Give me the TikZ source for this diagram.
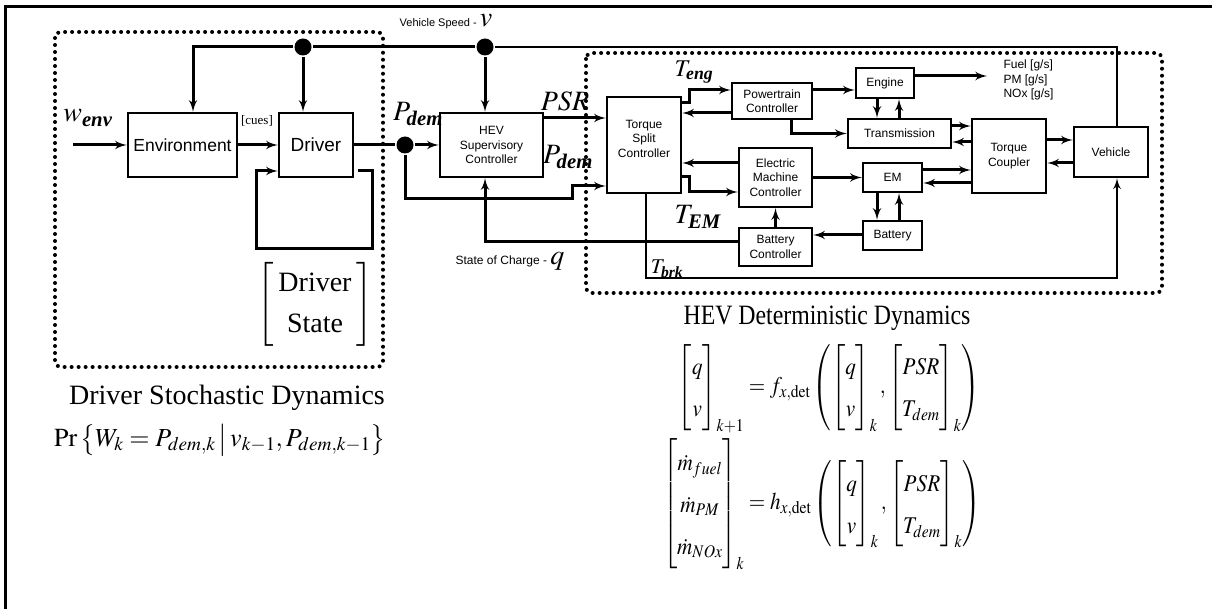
\documentclass[tikz,border=0pt]{standalone}
\usepackage{amsmath}
\usepackage{mathptmx}
\usepackage{fontspec}
\setmainfont{Liberation Serif}
\setsansfont{Liberation Sans}
\usepackage{graphicx}
\usetikzlibrary{arrows, positioning}

\newcommand{\sig}[2]{$#1_{\textbf{\textit{#2}}}$}

\begin{document}
\begin{tikzpicture}[x=1pt, y=-1pt, line width=3pt]
	\tikzset{->, >=latex',
		blk/.style={draw, -, line width=2.5pt, fill=white, inner sep=0pt, align=center, font=\sffamily\fontsize{12}{14.5}\selectfont},
		big/.style={blk, font=\sffamily\fontsize{17.5}{20}\selectfont},
		dot/.style={circle, fill, inner sep=0pt, minimum size=17pt},
		dotbox/.style={-, line width=4pt, line cap=round, dash pattern=on 0pt off 7pt, rounded corners=6pt},
		sig/.style={inner sep=0pt, font=\fontsize{28}{30}\selectfont},
		small/.style={inner sep=0pt, font=\sffamily\fontsize{11}{13}\selectfont}
	}

	\useasboundingbox (0,0) rectangle (1212,609);
	\draw[-] (5,609) -- (5,7) -- (1212,7);
	\draw[dotbox] (55,32) rectangle (383,367);
	\draw[dotbox] (586,53) rectangle (1162,293);

	\node[big, minimum width=109pt, minimum height=64pt] (env) at (182.5,145) {Environment};
	\node[big, font=\sffamily\fontsize{19}{22}\selectfont, minimum width=74pt, minimum height=64pt] (drv) at (316,145) {Driver};
	\node[blk, minimum width=103pt, minimum height=64pt] (hev) at (491.5,145) {HEV\\Supervisory\\Controller};
	\node[blk, minimum width=74pt, minimum height=96pt] (tsc) at (644,145) {Torque\\Split\\Controller\\[-2pt]~};
	\node[blk, minimum width=80pt, minimum height=36pt] (ptc) at (772,101) {Powertrain\\Controller};
	\node[blk, minimum width=58pt, minimum height=30pt] (eng) at (885,83) {Engine};
	\node[blk, minimum width=103pt, minimum height=29pt] (trn) at (899.5,133.5) {Transmission};
	\node[blk, minimum width=74pt, minimum height=74pt] (tcp) at (1009,156) {Torque\\Coupler};
	\node[blk, minimum width=74pt, minimum height=50pt] (veh) at (1111,152) {Vehicle};
	\node[blk, minimum width=73pt, minimum height=59pt] (emc) at (775.5,177.5) {Electric\\Machine\\Controller};
	\node[blk, minimum width=59pt, minimum height=29pt] (em) at (892.5,177.5) {EM};
	\node[blk, minimum width=59pt, minimum height=29pt] (bat) at (892.5,235.5) {Battery};
	\node[blk, minimum width=73pt, minimum height=38pt] (bc) at (775.5,247) {Battery\\Controller};

	\node[dot] (pd) at (405,145) {};
	\node[dot] (vd1) at (303,47) {};
	\node[dot] (vd2) at (485,47) {};
	\coordinate (win) at (73,145);
	\coordinate (eout) at (987,76);

	\draw (win) -- (env);
	\draw (env) -- (drv);
	\draw ([xshift=4pt,yshift=-26pt]drv.east) -- ++(14,0) |- (256,249) |- ([yshift=-26pt]drv.west);
	\draw[-] (drv) -- (pd);
	\draw (pd) -- (hev);
	\draw (pd) |- (572,199) |- ([yshift=-41pt]tsc.west);
	\draw ([yshift=27pt]hev.east) -- ([yshift=27pt]tsc.west);
	\draw[-, line width=2.7pt] ([xshift=6pt]veh.north) |- (vd2);
	\draw[-] (vd2) -- (vd1);
	\draw (vd1) -| ([xshift=10.5pt]env.north);
	\draw (vd1) -- (vd1 |- drv.north);
	\draw (vd2) -- (vd2 |- hev.north);
	\draw ([yshift=5pt]bc.west) -| ([xshift=-6.5pt]hev.south);
	\draw (tsc.east |- 0,103) -- ++(7,0) |- (ptc.west |- 0,90);
	\draw (ptc.west |- 0,113) -- (tsc.east |- 0,113);
	\draw (ptc.east |- 0,90) -- (eng.west |- 0,90);
	\draw (ptc.south -| 791,0) |- (trn);
	\draw (eng.east |- eout) -- (eout);
	\draw (eng.south -| 877,0) -- (trn.north -| 877,0);
	\draw (trn.north -| 899,0) -- (eng.south -| 899,0);
	\draw (trn.east |- 0,126) -- (tcp.west |- 0,126);
	\draw (tcp.west |- 0,142) -- (trn.east |- 0,142);
	\draw (tcp.east |- 0,140) -- (veh.west |- 0,140);
	\draw (veh.west |- 0,163) -- (tcp.east |- 0,163);
	\draw (tsc.east |- 0,177) -- ++(7,0) |- (emc.west |- 0,192);
	\draw (emc.west |- 0,163) -- (tsc.east |- 0,163);
	\draw (emc) -- (em);
	\draw (em.east |- 0,170) -- (tcp.west |- 0,170);
	\draw (tcp.west |- 0,183) -- (em.east |- 0,183);
	\draw (em.south -| 877,0) -- (bat.north -| 877,0);
	\draw (bat.north -| 899,0) -- (em.south -| 899,0);
	\draw (bat.west |- 0,235) -- (bc.east |- 0,235);
	\draw (bc) -- (emc);
	\draw[line width=2.7pt] (tsc.south -| 646,0) |- (1117,278) -- ([xshift=6pt]veh.south);

	\node[sig] (lw) at (88,118) {\sig{w}{env}};
	\node[inner sep=0pt, font=\fontsize{13}{15}\selectfont] (lcues) at (257,121) {[cues]};
	\node[sig] (lp1) at (418,114) {\sig{P}{dem}};
	\node[sig] (lpsr) at (565,101) {$PSR$};
	\node[sig] (lp2) at (568,157) {\sig{P}{dem}};
	\node[sig, font=\fontsize{24}{26}\selectfont] (lte) at (694,72) {\sig{T}{eng}};
	\node[sig] (ltem) at (698,217) {\sig{T}{EM}};
	\node[sig, font=\fontsize{21}{24}\selectfont] (ltb) at (667,269) {\sig{T}{brk}};
	\node[small] (lv) at (446,22) {Vehicle Speed - \fontsize{28}{30}\selectfont$v$};
	\node[small, font=\sffamily\fontsize{12}{14}\selectfont] (lq) at (510,261) {State of Charge - \fontsize{28}{30}\selectfont$q$};
	\node[small, font=\sffamily\fontsize{12}{14.5}\selectfont, align=left, anchor=west] (lout) at (1002,80) {Fuel [g/s]\\PM [g/s]\\NOx [g/s]};

	\node[inner sep=0pt, font=\fontsize{28}{33}\selectfont] (dstate) at (315,304) {\renewcommand{\arraystretch}{1.25}$\left[\begin{array}{c}\text{Driver}\\\text{State}\end{array}\right]$};
	\node[inner sep=0pt, font=\fontsize{28}{30}\selectfont] (ldrv) at (227,398) {Driver Stochastic Dynamics};
	\node[inner sep=0pt, font=\fontsize{26}{28}\selectfont] (lpr) at (220,440) {$\Pr\left\{W_k = P_{dem,k}\,\middle|\,v_{k-1}, P_{dem,k-1}\right\}$};
	\node[inner sep=0pt, font=\fontsize{28}{30}\selectfont] (lhev) at (827,318) {\scalebox{0.85}[1]{HEV Deterministic Dynamics}};
	\node[inner sep=0pt, font=\fontsize{24}{29}\selectfont] (eqs) at (822,457) {\renewcommand{\arraystretch}{1.45}\scalebox{0.88}[1]{$\begin{aligned}
		\begin{bmatrix} q\\ v\end{bmatrix}_{k+1} &= f_{x,\mathrm{det}}\left(\begin{bmatrix} q\\ v\end{bmatrix}_k,\begin{bmatrix} PSR\\ T_{dem}\end{bmatrix}_k\right)\\[2pt]
		\begin{bmatrix} \dot m_{fuel}\\ \dot m_{PM}\\ \dot m_{NOx}\end{bmatrix}_k &= h_{x,\mathrm{det}}\left(\begin{bmatrix} q\\ v\end{bmatrix}_k,\begin{bmatrix} PSR\\ T_{dem}\end{bmatrix}_k\right)
	\end{aligned}$}};
\end{tikzpicture}
\end{document}
